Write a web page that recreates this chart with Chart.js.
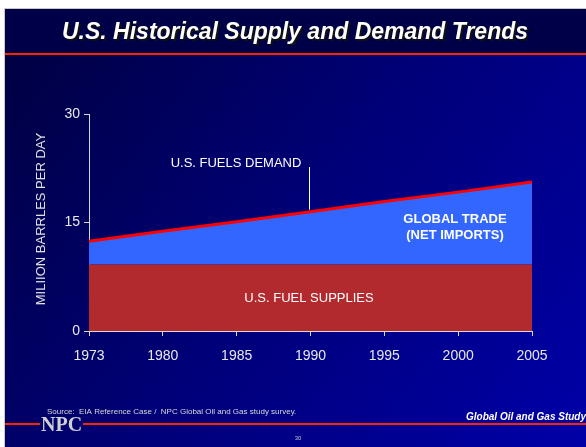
<!DOCTYPE html>
<html>
<head>
<meta charset="utf-8">
<script src="https://cdn.jsdelivr.net/npm/chart.js@4/dist/chart.umd.min.js"></script>
<style>
  html, body { margin: 0; padding: 0; background: #fff; }
  #wrap { width: 586px; height: 447px; }
</style>
</head>
<body>
<div id="wrap"><canvas id="grafico" width="586" height="447"></canvas></div>
<script>
// years shown on the axis (evenly spaced categories)
const years = ["1973", "1980", "1985", "1990", "1995", "2000", "2005"];
// U.S. fuel supplies (million barrels per day)
const supplies = [9.2, 9.2, 9.2, 9.2, 9.2, 9.2, 9.2];
// U.S. fuels demand (million barrels per day)
const demand = [12.4, 13.8, 15.1, 16.5, 17.9, 19.2, 20.6];
const yTicks = [0, 15, 30];

const FONT = "'Liberation Sans', Arial, sans-serif";

const fondo = {
  id: "fondo",
  beforeDraw(chart) {
    const c = chart.ctx;
    c.save();
    c.fillStyle = "#ffffff";
    c.fillRect(0, 0, 586, 447);
    const g = c.createLinearGradient(5, 9, 586, 447);
    g.addColorStop(0, "#00003e");
    g.addColorStop(0.5, "#000078");
    g.addColorStop(1, "#0000a8");
    c.fillStyle = g;
    c.fillRect(5, 9, 581, 438);
    c.strokeStyle = "#c8c8c8";
    c.lineWidth = 1;
    c.beginPath();
    c.moveTo(4.5, 447); c.lineTo(4.5, 8.5); c.lineTo(586, 8.5);
    c.stroke();
    // title bar
    c.fillStyle = "#000048";
    c.fillRect(5, 9, 581, 44);
    c.fillStyle = "#ff2200";
    c.fillRect(5, 53, 581, 2);
    c.font = "bold italic 23px " + FONT;
    c.textAlign = "center";
    c.textBaseline = "middle";
    c.fillStyle = "#111";
    c.fillText("U.S. Historical Supply and Demand Trends", 297, 35);
    c.fillStyle = "#ffffff";
    c.fillText("U.S. Historical Supply and Demand Trends", 295, 33);
    // y axis title
    c.save();
    c.translate(41, 219);
    c.rotate(-Math.PI / 2);
    c.font = "13px " + FONT;
    c.fillStyle = "#e0e0e0";
    c.fillText("MILIION BARRLES PER DAY", 0, 0);
    c.restore();
    // footer
    c.textAlign = "left";
    c.font = "8px " + FONT;
    c.fillStyle = "#d8d8d8";
    c.fillText("Source:  EIA Reference Case /  NPC Global Oil and Gas study survey.", 47, 412);
    c.fillStyle = "#ff2200";
    c.fillRect(5, 423, 35, 2);
    c.fillRect(83, 423, 503, 2);
    c.font = "bold 20px 'Liberation Serif', 'Times New Roman', serif";
    c.fillStyle = "#d0d0d0";
    c.fillText("NPC", 41, 426);
    c.font = "bold italic 10px " + FONT;
    c.fillStyle = "#ffffff";
    c.textAlign = "left";
    c.fillText("Global Oil and Gas Study", 466, 417);
    c.textAlign = "center";
    c.font = "6px " + FONT;
    c.fillStyle = "#c0c0c0";
    c.fillText("30", 298, 438);
    c.restore();
  }
};

const etiquetas = {
  id: "etiquetas",
  afterDatasetsDraw(chart) {
    const c = chart.ctx;
    const xs = chart.scales.x, ys = chart.scales.y;
    c.save();
    c.fillStyle = "#ffffff";
    c.textAlign = "center";
    c.textBaseline = "middle";
    c.font = "13px " + FONT;
    c.fillText("U.S. FUELS DEMAND", 236, 163);
    c.fillText("U.S. FUEL SUPPLIES", 309, 298);
    c.font = "bold 13px " + FONT;
    c.fillText("GLOBAL TRADE", 455, 219);
    c.fillText("(NET IMPORTS)", 455, 235);
    // pointer to demand line
    const px = Math.round(xs.getPixelForValue(3)) - 1.5;
    const py = ys.getPixelForValue(demand[3]) - 2;
    c.strokeStyle = "#ffffff";
    c.lineWidth = 1;
    c.beginPath();
    c.moveTo(px, 167);
    c.lineTo(px, py);
    c.stroke();
    c.restore();
  }
};

function initGrafico() {
  const ctx = document.getElementById("grafico").getContext("2d");
  new Chart(ctx, {
    type: "line",
    data: {
      labels: years,
      datasets: [
        {
          label: "U.S. Fuel Supplies",
          data: supplies,
          borderColor: "#b22a2e",
          borderWidth: 0,
          backgroundColor: "#b22a2e",
          fill: "origin",
          pointRadius: 0,
          tension: 0
        },
        {
          label: "U.S. Fuels Demand",
          data: demand,
          borderColor: "#ff0000",
          borderWidth: 3,
          backgroundColor: "#3366ff",
          fill: "-1",
          pointRadius: 0,
          tension: 0
        }
      ]
    },
    options: {
      responsive: false,
      animation: false,
      layout: { padding: { top: 114, right: 54, left: 0, bottom: 0 } },
      plugins: {
        legend: { display: false },
        tooltip: { enabled: false },
        filler: { drawTime: "beforeDatasetsDraw" }
      },
      scales: {
        x: {
          type: "category",
          offset: false,
          afterFit(s) { s.height = 116; },
          grid: { drawOnChartArea: false, drawTicks: true, tickLength: 5, color: "#d8d8d8" },
          border: { color: "#d8d8d8", width: 1 },
          ticks: { color: "#e8e8e8", font: { family: FONT, size: 14 }, padding: 12, maxRotation: 0, autoSkip: false }
        },
        y: {
          min: 0,
          max: 30,
          afterFit(s) { s.width = 89; },
          afterBuildTicks(s) { s.ticks = yTicks.map(v => ({ value: v })); },
          grid: { drawOnChartArea: false, drawTicks: true, tickLength: 5, color: "#d8d8d8" },
          border: { color: "#d8d8d8", width: 1 },
          ticks: { color: "#e8e8e8", font: { family: FONT, size: 14 }, padding: 4 }
        }
      }
    },
    plugins: [fondo, etiquetas]
  });
}

window.addEventListener("DOMContentLoaded", () => {
  initGrafico();
});
</script>
</body>
</html>
